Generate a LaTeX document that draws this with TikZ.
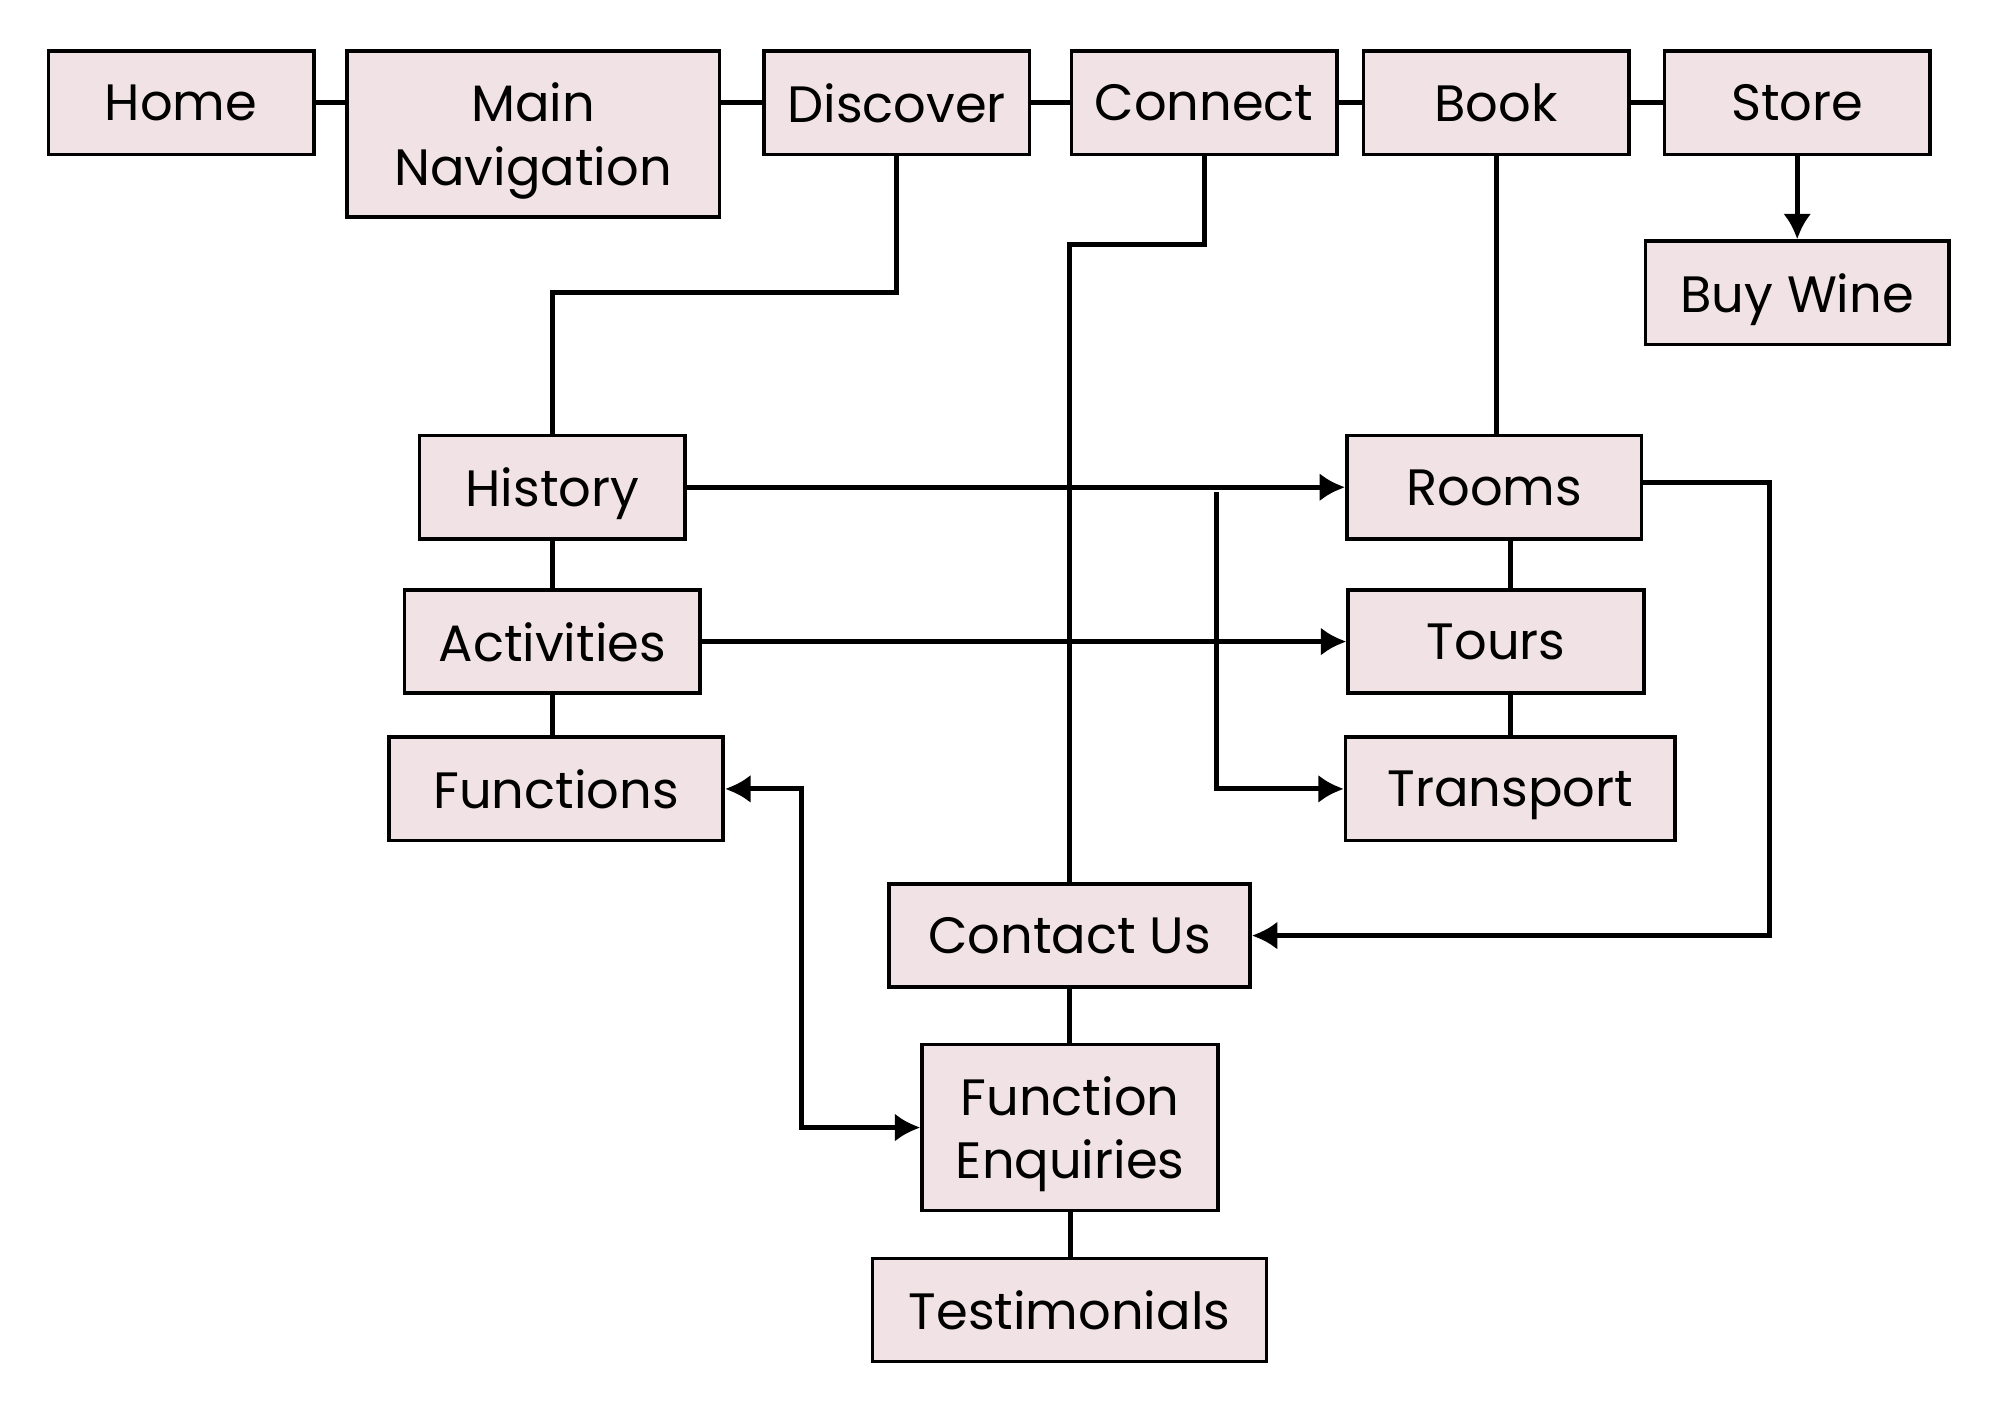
\documentclass[tikz,border=0pt]{standalone}
\usepackage{fontspec}
\setmainfont{Poppins}
\usetikzlibrary{arrows.meta}
\definecolor{rosado}{RGB}{240,226,229}
\begin{document}
\begin{tikzpicture}[
        pagina/.style={draw, line width=0.8pt, fill=rosado, align=center, inner sep=0pt,
        minimum height=0.81cm, text depth=0pt, font=\fontsize{11.4}{14.2}\selectfont},
        punta/.tip={Latex[length=2mm,width=2.2mm]},
        linea/.style={line width=1.1pt},
        flecha/.style={linea, -punta},
        doble/.style={linea, punta-punta}
    ]
        \useasboundingbox (0,0) rectangle (15.68,-11.09);
        \node[pagina, minimum width=2.08cm] (home) at (1.42,-0.805) {Home};
        \node[pagina, minimum width=2.92cm, minimum height=1.30cm] (nav) at (4.18,-1.05) {Main\\Navigation};
        \node[pagina, minimum width=2.08cm] (discover) at (7.03,-0.805) {Discover};
        \node[pagina, minimum width=2.08cm] (connect) at (9.44,-0.805) {Connect};
        \node[pagina, minimum width=2.08cm] (book) at (11.73,-0.805) {Book};
        \node[pagina, minimum width=2.08cm] (store) at (14.09,-0.805) {Store};
        \node[pagina, minimum width=2.38cm] (wine) at (14.09,-2.295) {Buy Wine};
        \node[pagina, minimum width=2.08cm] (history) at (4.33,-3.82) {History};
        \node[pagina, minimum width=2.32cm] (activities) at (4.33,-5.03) {Activities};
        \node[pagina, minimum width=2.62cm] (functions) at (4.36,-6.185) {Functions};
        \node[pagina, minimum width=2.31cm] (rooms) at (11.715,-3.82) {Rooms};
        \node[pagina, minimum width=2.32cm] (tours) at (11.73,-5.03) {Tours};
        \node[pagina, minimum width=2.58cm] (transport) at (11.84,-6.185) {Transport};
        \node[pagina, minimum width=2.83cm] (contact) at (8.385,-7.335) {Contact Us};
        \node[pagina, minimum width=2.32cm, minimum height=1.30cm] (enquiries) at (8.39,-8.84) {Function\\Enquiries};
        \node[pagina, minimum width=3.09cm] (testimonials) at (8.385,-10.27) {Testimonials};
        \coordinate (ramal) at (9.54,-3.86);
        \draw[linea] (home.east) -- (nav.west |- home.east);
        \draw[linea] (nav.east |- discover.west) -- (discover.west);
        \draw[linea] (discover) -- (connect);
        \draw[linea] (connect) -- (book);
        \draw[linea] (book) -- (store);
        \draw[flecha] (store) -- (wine);
        \draw[linea] (discover.south) -- ++(0,-1.07) -| (history.north);
        \draw[linea] (connect.south) -- ++(0,-0.69) -| (contact.north);
        \draw[linea] (book.south) -- (book.south |- rooms.north);
        \draw[flecha] (history) -- (rooms);
        \draw[linea] (history) -- (activities);
        \draw[linea] (activities.south) -- (activities.south |- functions.north);
        \draw[flecha] (activities) -- (tours);
        \draw[linea] (rooms.south -| transport) -- (tours.north -| transport);
        \draw[linea] (tours.south -| transport) -- (transport);
        \draw[flecha] (ramal) |- (transport.west);
        \draw[flecha] ([yshift=0.04cm]rooms.east) -- ++(0.99,0) |- (contact.east);
        \draw[doble] (functions.east) -- ++(0.6,0) |- (enquiries.west);
        \draw[linea] (contact.south) -- (contact.south |- enquiries.north);
        \draw[linea] (enquiries.south) -- (enquiries.south |- testimonials.north);
    \end{tikzpicture}
\end{document}
